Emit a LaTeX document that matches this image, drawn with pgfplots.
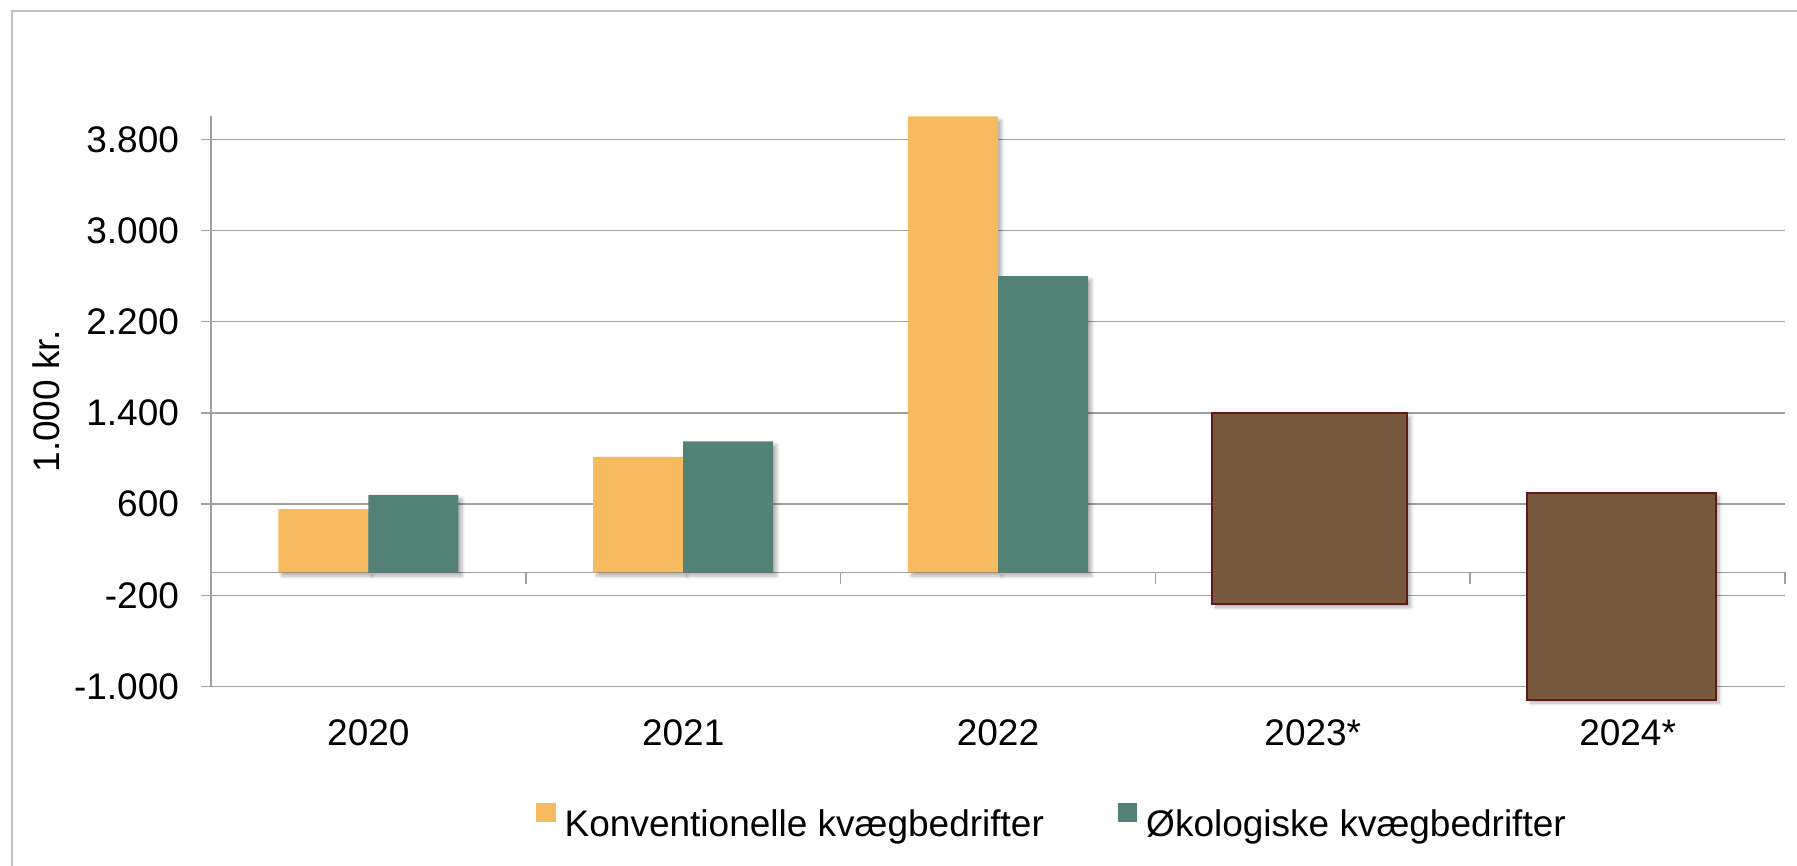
\documentclass[border=0pt]{standalone}
\usepackage{fontspec}
\setmainfont{Liberation Sans}
\usepackage{pgfplots}
\pgfplotsset{compat=1.18}
\usetikzlibrary{shadows.blur}
\definecolor{conv}{RGB}{246,187,95}
\definecolor{oko}{RGB}{84,129,118}
\definecolor{brownfill}{RGB}{121,89,60}
\definecolor{browndraw}{RGB}{96,25,30}
\definecolor{gridgray}{RGB}{160,160,160}
\definecolor{framegray}{RGB}{191,191,191}
\newcommand{\bigfont}{\fontsize{18.5}{22}\selectfont}
\tikzset{barshadow/.style={blur shadow={shadow xshift=1.8pt, shadow yshift=-1.8pt, shadow blur steps=6, shadow blur radius=1.6pt, shadow opacity=30}}}
\makeatletter
\tikzset{no preactions/.code={\let\tikz@preactions\pgfutil@empty}}
\makeatother
\begin{document}
\begin{tikzpicture}
\useasboundingbox (-105.5pt,-89.75pt) rectangle (793pt,343.25pt);
\draw[framegray, line width=1pt] (-99.35pt,-120pt) -- (-99.35pt,337.9pt) -- (820pt,337.9pt);
\begin{axis}[
  at={(0pt,0pt)}, anchor=south west,
  scale only axis, width=787pt, height=285pt,
  xmin=-0.5, xmax=4.5, ymin=-1000, ymax=4000, clip=false,
  axis y line*=left, axis x line*=bottom,
  x axis line style={draw=gridgray, line width=0.75pt},
  y axis line style={draw=gridgray, line width=0.75pt},
  xtick={0,1,2,3,4}, xticklabels={2020,2021,2022,2023*,2024*},
  ytick={-1000,-200,600,1400,2200,3000,3800},
  yticklabels={-1.000,-200,600,1.400,2.200,3.000,3.800},
  x tick style={draw=none},
  y tick style={draw=gridgray, line width=0.75pt},
  tick align=outside, major tick length=5pt,
  ymajorgrids, major grid style={draw=gridgray, line width=0.75pt},
  extra y ticks={0}, extra y tick labels={},
  extra y tick style={major tick length=0pt, grid=major},
  tick label style={font=\bigfont},
  xticklabel style={yshift=-8pt},
  yticklabel style={xshift=-7.5pt},
  ylabel={1.000 kr.},
  ylabel style={font=\bigfont, at={(axis description cs:-0.1048,0.5)}, anchor=center},
  legend columns=2,
  legend style={at={(axis description cs:0.535,-0.240)}, anchor=center, draw=none, fill=none,
    font=\bigfont,
    /tikz/every odd column/.append style={column sep=2.5pt},
    /tikz/every even column/.append style={column sep=35pt}},
]
\addplot[ycomb, draw=gridgray, line width=0.75pt, mark=none, forget plot]
  coordinates {(0.5,-100) (1.5,-100) (2.5,-100) (3.5,-100) (4.5,-100)};
\addplot[ybar, bar width=0.286, bar shift=-0.143, fill=conv, draw=none, barshadow,
  legend image code/.code={\fill[no preactions, conv] (0pt,1.35pt) rectangle (9.65pt,11pt);}]
  coordinates {(0,555) (1,1015) (2,4000)};
\addlegendentry{Konventionelle kvægbedrifter}
\addplot[ybar, bar width=0.286, bar shift=0.143, fill=oko, draw=none, barshadow,
  legend image code/.code={\fill[no preactions, oko] (0pt,1.35pt) rectangle (9.65pt,11pt);}]
  coordinates {(0,680) (1,1150) (2,2600)};
\addlegendentry{Økologiske kvægbedrifter}
\addplot[fill=brownfill, draw=browndraw, line width=1pt, forget plot, barshadow]
  coordinates {(2.68,-275) (3.30,-275) (3.30,1400) (2.68,1400)} -- cycle;
\addplot[fill=brownfill, draw=browndraw, line width=1pt, forget plot, barshadow]
  coordinates {(3.68,-1115) (4.28,-1115) (4.28,700) (3.68,700)} -- cycle;
\end{axis}
\end{tikzpicture}
\end{document}
